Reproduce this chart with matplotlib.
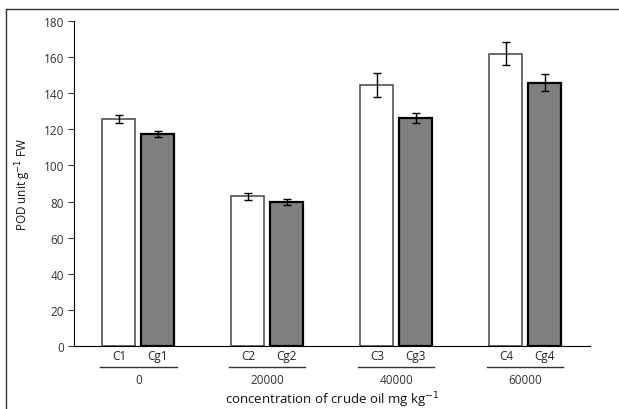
import numpy as np
import matplotlib.pyplot as plt
from matplotlib.lines import Line2D
from matplotlib.transforms import blended_transform_factory

plt.rcParams['font.family'] = ['Open Sans', 'DejaVu Sans']

# data
groups = ['0', '20000', '40000', '60000']
c_names = ['C1', 'C2', 'C3', 'C4']
cg_names = ['Cg1', 'Cg2', 'Cg3', 'Cg4']
c_vals = [125.7, 82.8, 144.5, 162.0]
c_err = [2.3, 1.7, 6.7, 6.2]
cg_vals = [117.4, 79.7, 126.4, 145.8]
cg_err = [1.6, 1.7, 2.8, 4.6]

fig = plt.figure(figsize=(6.19, 4.10), dpi=100)
ax = fig.add_axes([0.1195, 0.1537, 0.8335, 0.7926])

x = np.arange(len(groups))
off = 0.151
w = 0.256

ax.bar(x - off, c_vals, w, color='white', edgecolor='#444444', linewidth=1.1)
ax.bar(x + off, cg_vals, w, color='#808080', edgecolor='black', linewidth=1.6)
ax.errorbar(x - off, c_vals, yerr=c_err, fmt='none', ecolor='black',
            elinewidth=1, capsize=3, capthick=1)
ax.errorbar(x + off, cg_vals, yerr=cg_err, fmt='none', ecolor='black',
            elinewidth=1, capsize=3, capthick=1)

ax.set_xlim(-0.5, 3.5)
ax.set_ylim(0, 180)
ax.set_yticks(np.arange(0, 181, 20))
ax.tick_params(axis='y', direction='out', length=4, labelsize=8.5, colors='#333333', pad=3)
ax.set_xticks([])
for s in ['top', 'right']:
    ax.spines[s].set_visible(False)
ax.spines['left'].set_color('black')
ax.spines['bottom'].set_color('black')

trans = blended_transform_factory(ax.transData, ax.transAxes)
for i in range(len(groups)):
    ax.text(x[i] - off, -0.028, c_names[i], transform=trans, ha='center', va='center',
            fontsize=8.5, color='#222222')
    ax.text(x[i] + off, -0.028, cg_names[i], transform=trans, ha='center', va='center',
            fontsize=8.5, color='#222222')
    ax.add_line(Line2D([x[i] - 0.295, x[i] + 0.295], [-0.065, -0.065], transform=trans,
                       color='#333333', linewidth=1, clip_on=False))
    ax.text(x[i], -0.102, groups[i], transform=trans, ha='center', va='center',
            fontsize=8.5, color='#333333')

ax.text(0.5, -0.165, 'concentration of crude oil mg kg$^{-1}$', transform=ax.transAxes,
        ha='center', va='center', fontsize=9.5, color='#111111')
ax.set_ylabel('POD unit g$^{-1}$ FW', fontsize=8.5, color='#111111', labelpad=8)

# outer frame (partially visible)
fig.add_artist(Line2D([6 / 619, 1], [1 - 10 / 410, 1 - 10 / 410], transform=fig.transFigure,
                      color='#333333', linewidth=1))
fig.add_artist(Line2D([6 / 619, 6 / 619], [0, 1 - 10 / 410], transform=fig.transFigure,
                      color='#333333', linewidth=1))

fig.savefig('out.png', dpi=100)
